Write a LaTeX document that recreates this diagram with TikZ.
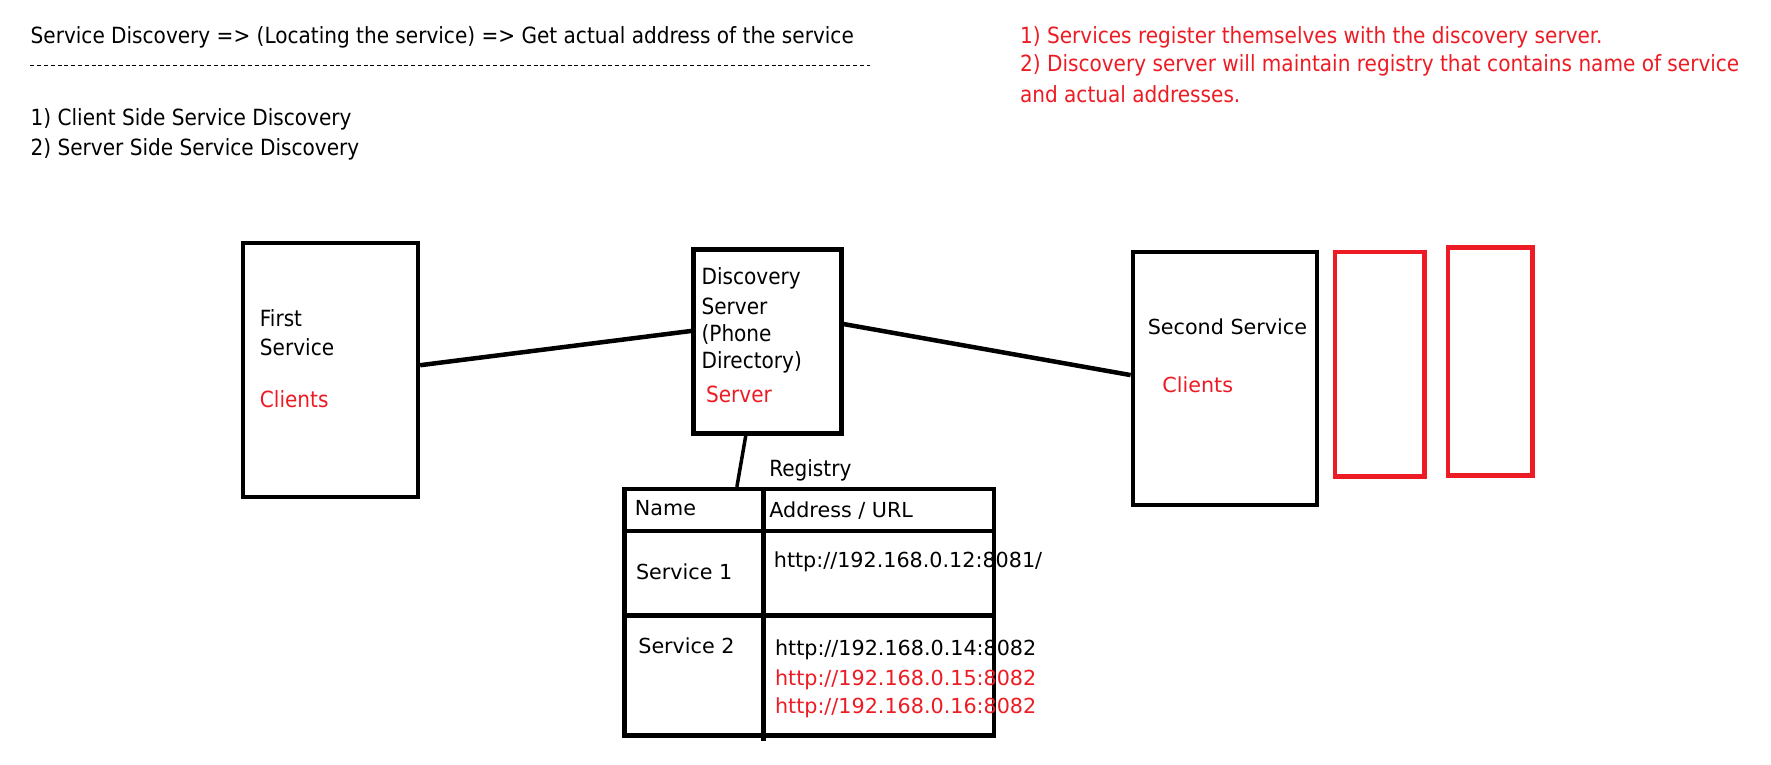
\documentclass[tikz,border=0pt]{standalone}
\usepackage{fontspec}
\setmainfont{DejaVu Sans}
\newfontfamily\cond{DejaVu Sans Condensed}
\definecolor{pred}{RGB}{237,28,36}
\def\U{1.1295pt}
\begin{document}
\begin{tikzpicture}[x=1.1295pt,y=-1.1295pt,
  box/.style={draw=black,line width=4.5pt,inner sep=0pt},
  rbox/.style={draw=pred,line width=4.5pt,inner sep=0pt},
  link/.style={draw=black,line width=4.5pt},
  tline/.style={draw=black,line width=4.5pt},
  txt/.style={anchor=west,inner sep=0pt,font=\cond\fontsize{22.3}{26}\selectfont},
  ctxt/.style={txt,text=pred},
  wtxt/.style={anchor=west,inner sep=0pt,font=\fontsize{20.7}{24}\selectfont},
  rwtxt/.style={wtxt,text=pred}]
\useasboundingbox[fill=white] (0,0) rectangle (1568,677);
% header texts
\node[txt] (t1) at (27,33) {Service Discovery => (Locating the service) => Get actual address of the service};
\coordinate (d1) at (27,58);
\coordinate (d2) at (770,58);
\draw[line width=1.5pt,dash pattern=on 4pt off 2.8pt] (d1) -- (d2);
\node[txt] (l1) at (27,106) {1) Client Side Service Discovery};
\node[txt] (l2) at (27,132) {2) Server Side Service Discovery};
\node[ctxt] (r1) at (903,33) {1) Services register themselves with the discovery server.};
\node[ctxt] (r2) at (903,58) {2) Discovery server will maintain registry that contains name of service};
\node[ctxt] (r3) at (903,83) {and actual addresses.};
% boxes
\node[box,minimum width=155*\U,minimum height=225*\U] (first) at (292.5,327.5) {};
\node[box,minimum width=131*\U,minimum height=163*\U] (disc) at (679.5,302.5) {};
\node[box,minimum width=163*\U,minimum height=224*\U] (second) at (1084.5,335) {};
\node[rbox,minimum width=79*\U,minimum height=199*\U] (red1) at (1221.5,322.5) {};
\node[rbox,minimum width=75*\U,minimum height=202*\U] (red2) at (1319.5,320) {};
\node[box,minimum width=327*\U,minimum height=218*\U] (table) at (716.5,542) {};
% box texts
\node[txt] (fs1) at (230,282) {First};
\node[txt] (fs2) at (230,307) {Service};
\node[ctxt] (fs3) at (230,353) {Clients};
\node[txt] (ds1) at (621,246) {Discovery};
\node[txt] (ds2) at (621,271) {Server};
\node[txt] (ds3) at (621,296) {(Phone};
\node[txt] (ds4) at (621,321) {Directory)};
\node[ctxt] (ds5) at (625,349) {Server};
\node[wtxt] (ss1) at (1016,289) {Second Service};
\node[rwtxt] (ss2) at (1029,341) {Clients};
% connectors
\draw[link] (first.3) -- (disc.172);
\draw[link] (disc.13) -- (second.178.6);
\draw[link,line width=3.5pt] (disc.-103.5) -- (table.120.6);
% table
\node[txt] (reg) at (681,416) {Registry};
\coordinate (c1) at (676,433);
\coordinate (c2) at (676,656);
\coordinate (h1) at (553,470);
\coordinate (h2) at (880,470);
\coordinate (s1) at (553,545);
\coordinate (s2) at (882,545);
\draw[tline] (c1) -- (c2);
\draw[tline] (h1) -- (h2);
\draw[tline] (s1) -- (s2);
\node[wtxt] (n1) at (562,450) {Name};
\node[wtxt] (n2) at (681,452) {Address / URL};
\node[wtxt] (n3) at (563,506) {Service 1};
\node[wtxt] (n4) at (685,497) {http://192.168.0.12:8081/};
\node[wtxt] (n5) at (565,572) {Service 2};
\node[wtxt] (n6) at (686,575) {http://192.168.0.14:8082};
\node[rwtxt] (n7) at (686,602) {http://192.168.0.15:8082};
\node[rwtxt] (n8) at (686,627) {http://192.168.0.16:8082};
\end{tikzpicture}
\end{document}
